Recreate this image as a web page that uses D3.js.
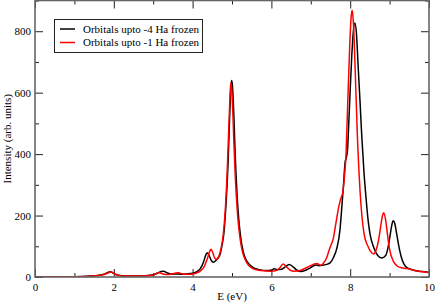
<!DOCTYPE html>
<html>

<head>
    <meta charset="utf-8">
    <title>spectrum</title>
    <style type="text/css">
    body {
        margin: 0;
        background: #fff;
    }

    .tick line {
        stroke: #222;
    }

    .curve {
        fill: none;
        stroke-width: 1.5px;
        stroke-linejoin: round;
    }
    </style>
</head>

<body>
    <script src="https://cdn.jsdelivr.net/npm/d3@7"></script>
    <div id="chartArea"></div>
    <script>
    // black curve: orbitals upto -4 Ha frozen
    var frozen4E = [0, 0.5, 1.0, 1.4, 1.6, 1.75, 1.85, 1.9, 1.95, 2.05, 2.2, 2.5, 2.8, 3.0, 3.1, 3.2, 3.27, 3.35, 3.45, 3.58, 3.7, 3.85, 4.0, 4.1, 4.2, 4.28, 4.33, 4.37, 4.42, 4.47, 4.53, 4.6, 4.65, 4.7, 4.75, 4.8, 4.85, 4.9, 4.94, 4.97, 4.99, 5.01, 5.04, 5.07, 5.1, 5.13, 5.17, 5.22, 5.28, 5.35, 5.45, 5.55, 5.7, 5.85, 6.0, 6.07, 6.15, 6.25, 6.35, 6.45, 6.55, 6.65, 6.75, 6.85, 6.95, 7.05, 7.12, 7.2, 7.3, 7.4, 7.49, 7.57, 7.66, 7.74, 7.78, 7.83, 7.87, 7.9, 7.93, 7.96, 8.0, 8.04, 8.08, 8.12, 8.16, 8.2, 8.25, 8.29, 8.35, 8.4, 8.45, 8.5, 8.6, 8.7, 8.8, 8.9, 8.95, 9.0, 9.05, 9.09, 9.13, 9.18, 9.25, 9.32, 9.4, 9.5, 9.6, 9.75, 9.9, 10];
    var frozen4I = [0, 0.5, 1, 3, 5, 9, 15, 17, 15, 8, 4, 3, 4, 7, 12, 18, 19, 14, 10, 10, 9, 10, 12, 17, 28, 50, 70, 79, 70, 55, 48, 55, 62, 75, 105, 150, 240, 370, 520, 610, 640, 625, 550, 440, 340, 265, 190, 130, 85, 58, 40, 30, 24, 21, 22, 27, 24, 25, 33, 41, 33, 22, 18, 21, 27, 35, 39, 37, 38, 41, 46, 62, 93, 153, 215, 300, 372, 388, 410, 490, 610, 720, 800, 827, 790, 690, 570, 467, 340, 260, 190, 142, 95, 70, 62, 70, 90, 125, 165, 183, 175, 140, 90, 55, 35, 27, 23, 19, 17, 15];

    // red curve: orbitals upto -1 Ha frozen
    var frozen1E = [0, 0.5, 1.0, 1.4, 1.6, 1.75, 1.85, 1.93, 2.0, 2.1, 2.3, 2.6, 2.85, 3.0, 3.13, 3.25, 3.4, 3.55, 3.64, 3.75, 3.9, 4.0, 4.1, 4.2, 4.3, 4.38, 4.44, 4.47, 4.51, 4.56, 4.6, 4.65, 4.72, 4.78, 4.83, 4.88, 4.92, 4.95, 4.97, 4.99, 5.02, 5.05, 5.08, 5.11, 5.15, 5.2, 5.26, 5.33, 5.42, 5.52, 5.65, 5.8, 6.0, 6.1, 6.2, 6.3, 6.38, 6.48, 6.58, 6.7, 6.85, 6.98, 7.08, 7.15, 7.25, 7.32, 7.4, 7.49, 7.57, 7.65, 7.72, 7.77, 7.81, 7.85, 7.89, 7.94, 7.99, 8.02, 8.05, 8.08, 8.12, 8.18, 8.25, 8.35, 8.45, 8.55, 8.6, 8.65, 8.72, 8.78, 8.82, 8.85, 8.9, 8.95, 9.0, 9.1, 9.2, 9.3, 9.4, 9.5, 9.6, 9.8, 10];
    var frozen1I = [0, 0.5, 1, 2.5, 4.5, 8, 13, 17, 12, 6, 3, 3, 4, 6, 15, 10, 8, 12, 14, 10, 9, 10, 13, 20, 35, 62, 85, 90, 80, 62, 58, 63, 92, 140, 220, 350, 490, 590, 632, 615, 540, 430, 335, 265, 190, 130, 85, 58, 38, 28, 23, 20, 19, 20, 28, 42, 33, 22, 19, 20, 28, 36, 42, 44, 38, 45, 62, 97, 125, 185, 235, 258, 275, 320, 391, 576, 760, 840, 868, 830, 700, 467, 280, 142, 100, 78, 75, 85, 120, 170, 200, 209, 185, 135, 90, 50, 35, 30, 28, 26, 22, 18, 15];

    var xTicks = [0, 2, 4, 6, 8, 10],
        xMinor = [1, 3, 5, 7, 9],
        yTicks = [0, 200, 400, 600, 800],
        yMinor = [100, 300, 500, 700, 900],
        legendLabels = ['Orbitals upto -4 Ha frozen', 'Orbitals upto -1 Ha frozen'],
        seriesColors = ['#000000', '#ff0000'];

    var FONT = '"Liberation Serif", "Times New Roman", Times, serif';

    var W = 436,
        H = 303,
        margin = {
            top: 0.5,
            bottom: 26,
            left: 35,
            right: 7
        };

    var svg = d3.select('#chartArea').append('svg')
        .attr('width', W)
        .attr('height', H)
        .style('font-family', FONT)
        .style('font-size', '11px');

    var xScale = d3.scaleLinear()
        .domain([0, 10])
        .range([margin.left, W - margin.right]);

    var yScale = d3.scaleLinear()
        .domain([0, 900])
        .range([H - margin.bottom, margin.top]);

    var x0 = xScale.range()[0], x1 = xScale.range()[1],
        y0 = yScale.range()[0], y1 = yScale.range()[1];

    // ticks point inward on all four sides, like xmgrace
    function addAxis(axis, tx, ty) {
        var g = svg.append('g')
            .attr('transform', 'translate(' + tx + ',' + ty + ')')
            .call(axis);
        g.attr('font-family', null).attr('font-size', null);
        g.select('.domain').remove();
        g.selectAll('text').style('font-family', FONT).style('font-size', '11px').attr('fill', '#000');
        return g;
    }

    addAxis(d3.axisBottom(xScale).tickValues(xTicks).tickSize(-8).tickPadding(6).tickFormat(d3.format('d')), 0, y0);
    addAxis(d3.axisBottom(xScale).tickValues(xMinor).tickSize(-4).tickFormat(''), 0, y0);
    addAxis(d3.axisTop(xScale).tickValues(xTicks).tickSize(-8).tickFormat(''), 0, y1);
    addAxis(d3.axisTop(xScale).tickValues(xMinor).tickSize(-4).tickFormat(''), 0, y1);

    addAxis(d3.axisLeft(yScale).tickValues(yTicks).tickSize(-8).tickPadding(4).tickFormat(d3.format('d')), x0, 0);
    addAxis(d3.axisLeft(yScale).tickValues(yMinor).tickSize(-4).tickFormat(''), x0, 0);
    addAxis(d3.axisRight(yScale).tickValues(yTicks).tickSize(-8).tickFormat(''), x1, 0);
    addAxis(d3.axisRight(yScale).tickValues(yMinor).tickSize(-4).tickFormat(''), x1, 0);

    var line = d3.line()
        .x(function(d) { return xScale(d[0]); })
        .y(function(d) { return yScale(d[1]); })
        .curve(d3.curveMonotoneX);

    var series = [
        d3.zip(frozen4E, frozen4I),
        d3.zip(frozen1E, frozen1I)
    ];

    svg.append('defs').append('clipPath').attr('id', 'plotClip')
        .append('rect')
        .attr('x', x0).attr('y', y1)
        .attr('width', x1 - x0).attr('height', y0 - y1);

    svg.selectAll('path.curve')
        .data(series)
        .enter()
        .append('path')
        .attr('class', 'curve')
        .attr('clip-path', 'url(#plotClip)')
        .attr('stroke', function(d, i) { return seriesColors[i]; })
        .attr('d', line);

    // frame
    svg.append('rect')
        .attr('x', x0).attr('y', y1)
        .attr('width', x1 - x0).attr('height', y0 - y1)
        .attr('fill', 'none')
        .attr('stroke', '#666')
        .attr('stroke-width', 1.6);

    // axis titles
    svg.append('text')
        .attr('x', (x0 + x1) / 2)
        .attr('y', 300)
        .attr('text-anchor', 'middle')
        .style('font-family', FONT)
        .text('E (eV)');

    svg.append('text')
        .attr('transform', 'translate(11,' + ((y0 + y1) / 2) + ') rotate(-90)')
        .attr('text-anchor', 'middle')
        .style('font-family', FONT)
        .text('Intensity (arb. units)');

    // legend
    var legend = svg.append('g');
    legend.append('rect')
        .attr('x', 54.5).attr('y', 19.5)
        .attr('width', 148).attr('height', 33)
        .attr('fill', '#fff')
        .attr('stroke', '#222')
        .attr('stroke-width', 1);

    var item = legend.selectAll('g.item')
        .data(legendLabels)
        .enter()
        .append('g')
        .attr('class', 'item')
        .attr('transform', function(d, i) { return 'translate(0,' + (29 + i * 13.5) + ')'; });

    item.append('line')
        .attr('x1', 60).attr('x2', 75)
        .attr('stroke', function(d, i) { return seriesColors[i]; })
        .attr('stroke-width', 1.5);

    item.append('text')
        .attr('x', 83)
        .attr('dy', '0.35em')
        .style('font-family', FONT)
        .text(function(d) { return d; });
    </script>
</body>

</html>
